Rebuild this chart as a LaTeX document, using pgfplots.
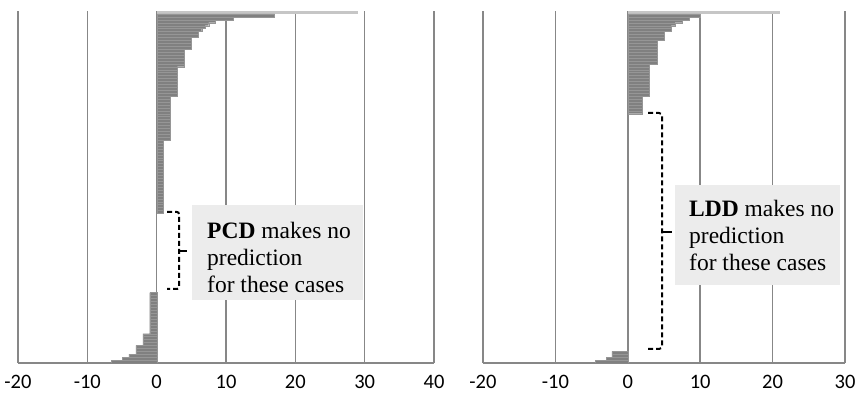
\documentclass[border=0pt]{standalone}
\usepackage{pgfplots}
\pgfplotsset{compat=1.18}
\usepackage{fontspec}
\setmainfont{Liberation Serif}
\newfontfamily\tickfont{Carlito}
\definecolor{bargray}{RGB}{128,128,128}
\definecolor{barline}{RGB}{150,150,150}
\definecolor{gridgray}{RGB}{135,135,135}
\definecolor{boxgray}{RGB}{236,236,236}
\pgfplotsset{
  panel/.style={
    scale only axis, height=352pt, ymin=0.5, ymax=120.5,
    enlargelimits=false,
    axis y line=none, axis x line*=bottom,
    x axis line style={gridgray, line width=1.6pt, -},
    xmajorgrids=true, grid style={gridgray, line width=1.6pt},
    major tick length=0pt,
    ytick=\empty,
    xticklabel style={font=\tickfont\fontsize{20.5}{21}\selectfont, yshift=-8.5pt},
  },
  bars/.style={xbar, bar width=1, bar shift=0, fill=bargray, draw=barline, line width=0.3pt},
  topbar/.style={xbar, bar width=1, bar shift=0, fill=bargray!45, draw=none},
}
\pgfplotstableread{
x y
29 120
}\pcdtop
\pgfplotstableread{
x y
17 119
11 118
8.5 117
7.5 116
7 115
6.5 114
6 113
6 112
5 111
5 110
5 109
5 108
4 107
4 106
4 105
4 104
4 103
4 102
3 101
3 100
3 99
3 98
3 97
3 96
3 95
3 94
3 93
3 92
2 91
2 90
2 89
2 88
2 87
2 86
2 85
2 84
2 83
2 82
2 81
2 80
2 79
2 78
2 77
1 76
1 75
1 74
1 73
1 72
1 71
1 70
1 69
1 68
1 67
1 66
1 65
1 64
1 63
1 62
1 61
1 60
1 59
1 58
1 57
1 56
1 55
1 54
1 53
1 52
-1 24
-1 23
-1 22
-1 21
-1 20
-1 19
-1 18
-1 17
-1 16
-1 15
-1 14
-1 13
-1 12
-1 11
-2 10
-2 9
-2 8
-2 7
-3 6
-3 5
-3 4
-4 3
-5 2
-6.5 1
}\pcd
\pgfplotstableread{
x y
21 120
}\lddtop
\pgfplotstableread{
x y
10 119
8.5 118
7.5 117
6.5 116
6 115
6 114
5 113
5 112
5 111
4 110
4 109
4 108
4 107
4 106
4 105
4 104
4 103
3 102
3 101
3 100
3 99
3 98
3 97
3 96
3 95
3 94
3 93
3 92
2 91
2 90
2 89
2 88
2 87
2 86
-2.2 4
-2.2 3
-3 2
-4.5 1
}\ldd
\begin{document}
\begin{tikzpicture}[x=1pt,y=1pt]
\useasboundingbox (0,0) rectangle (857,398);
\begin{axis}[panel, at={(18pt,35pt)}, anchor=south west, width=416pt,
  xmin=-20, xmax=40, xtick={-20,-10,0,10,20,30,40},
  xticklabels={-20,-10,0,10,20,30,40}]
  \addplot[topbar] table[x=x,y=y] {\pcdtop};
  \addplot[bars] table[x=x,y=y] {\pcd};
\end{axis}
\begin{axis}[panel, at={(483pt,35pt)}, anchor=south west, width=362pt,
  xmin=-20, xmax=30, xtick={-20,-10,0,10,20,30},
  xticklabels={-20,-10,0,10,20,30}]
  \addplot[topbar] table[x=x,y=y] {\lddtop};
  \addplot[bars] table[x=x,y=y] {\ldd};
\end{axis}
% annotation boxes
\fill[boxgray] (192,98) rectangle (363,193);
\node[anchor=west, align=left, inner sep=0pt, font=\fontsize{23.5}{27}\selectfont] at (207,141)
  {\textbf{PCD} makes no\\prediction\\for these cases};
\fill[boxgray] (675,113) rectangle (840,213);
\node[anchor=west, align=left, inner sep=0pt, font=\fontsize{23.5}{27}\selectfont] at (689,163)
  {\textbf{LDD} makes no\\prediction\\for these cases};
% brackets
\draw[black, line width=2pt, dash pattern=on 5pt off 3pt, rounded corners=2pt]
  (167,186) -- (179,186) -- (179,109) -- (167,109);
\draw[black, line width=2pt] (179,147) -- (187,147);
\draw[black, line width=2pt, dash pattern=on 5pt off 3pt, rounded corners=3pt]
  (648,285) -- (662,285) -- (662,49) -- (648,49);
\draw[black, line width=2pt] (662,166) -- (672,166);
\end{tikzpicture}
\end{document}
